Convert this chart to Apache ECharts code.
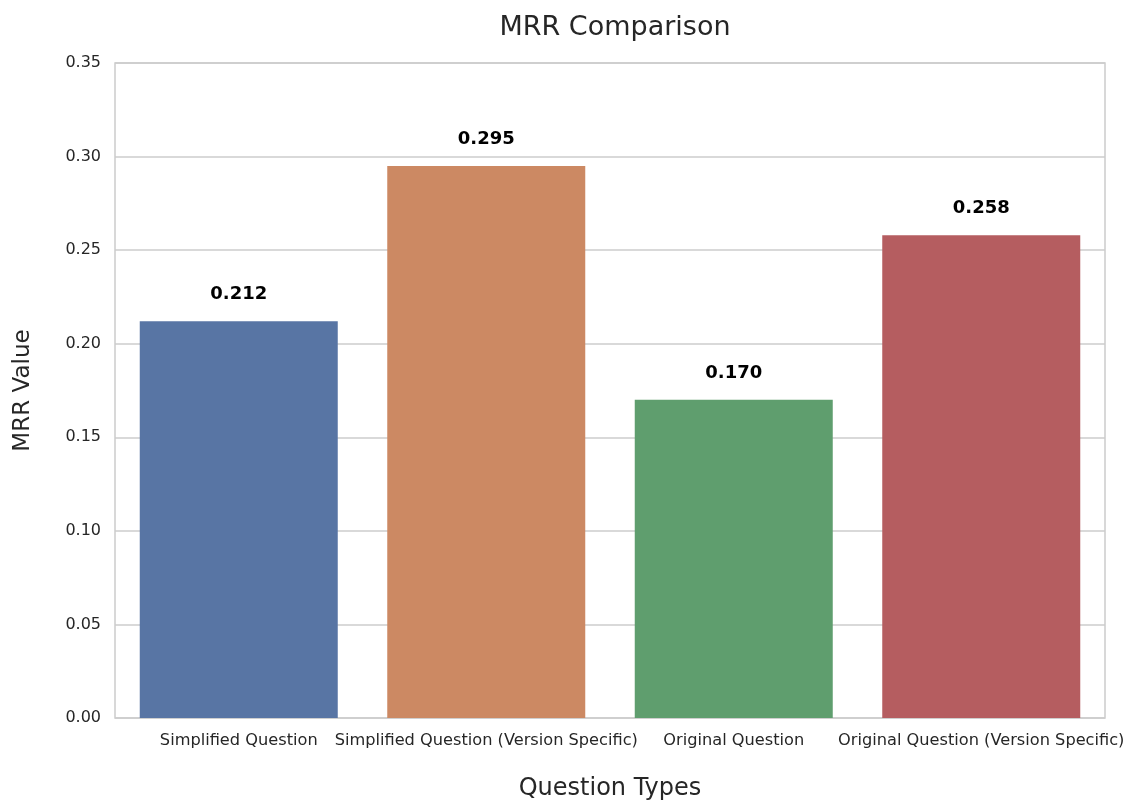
<!DOCTYPE html>
<html>
<head>
<meta charset="utf-8">
<style>
  html, body { margin: 0; padding: 0; background: #fff; }
  #chart { width: 1137px; height: 803px; }
</style>
<script src="https://cdn.jsdelivr.net/npm/echarts@6/dist/echarts.min.js"></script>
</head>
<body>
<div id="chart"></div>
<script>
"use strict";
// data
const categories = ["Simplified Question", "Simplified Question (Version Specific)",
  "Original Question", "Original Question (Version Specific)"];
const mrrValues = [0.212, 0.295, 0.170, 0.258];
const barColors = ["#5875a4", "#cc8963", "#5f9e6e", "#b55d60"];
const yTicks = { min: 0, max: 0.35, interval: 0.05 };

const font = "DejaVu Sans";
const ink = "#262626";

const chart = echarts.init(document.getElementById("chart"), null, { renderer: "canvas" });
chart.setOption({
  backgroundColor: "#fff",
  animation: false,
  textStyle: { fontFamily: font, color: ink },
  title: {
    text: "MRR Comparison", left: 610, textAlign: "center", top: 9,
    textStyle: { fontFamily: font, fontSize: 27, fontWeight: "normal", color: ink },
  },
  grid: {
    left: 115, right: 32, top: 63, bottom: 85,
    outerBoundsMode: "none", containLabel: false,
    show: true, borderColor: "#cccccc", borderWidth: 1.5, backgroundColor: "#fff",
  },
  xAxis: {
    type: "category", data: categories,
    name: "Question Types", nameLocation: "middle", nameGap: 59,
    nameTextStyle: { fontFamily: font, fontSize: 24, color: ink },
    axisLine: { show: false }, axisTick: { show: false },
    axisLabel: { fontFamily: font, fontSize: 16.2, color: ink, margin: 15, interval: 0 },
  },
  yAxis: {
    type: "value", min: yTicks.min, max: yTicks.max, interval: yTicks.interval,
    name: "MRR Value", nameLocation: "middle", nameGap: 80, nameRotate: 90,
    nameTextStyle: { fontFamily: font, fontSize: 23, color: ink },
    axisLine: { show: false }, axisTick: { show: false },
    axisLabel: { fontFamily: font, fontSize: 16, color: ink, margin: 14,
      formatter: (v) => v.toFixed(2) },
    splitLine: { lineStyle: { color: "#cccccc", width: 1.5 } },
  },
  series: [{
    type: "bar",
    barCategoryGap: "20%",
    data: mrrValues.map((v, i) => ({ value: v, itemStyle: { color: barColors[i] } })),
    label: {
      show: true, position: "top", distance: 18,
      fontFamily: font, fontSize: 18, fontWeight: "bold", color: "#000",
      formatter: (p) => p.value.toFixed(3),
    },
  }],
});
</script>
</body>
</html>
